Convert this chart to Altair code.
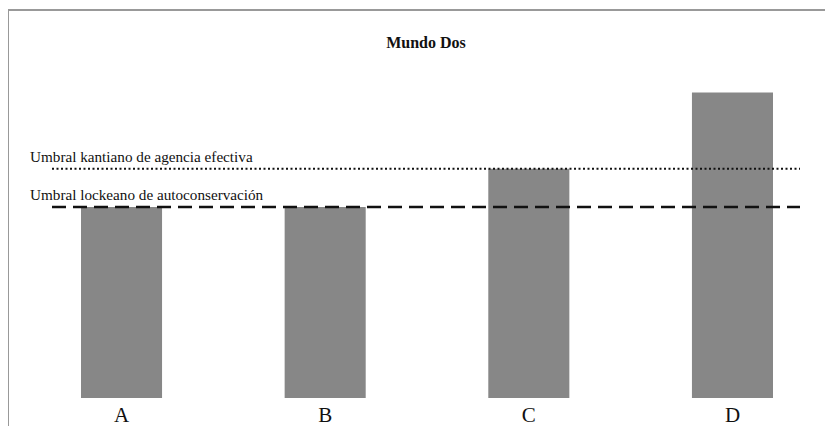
import altair as alt
import pandas as pd

categories = ["A", "B", "C", "D"]
values = [5, 5, 6, 8]
threshold_labels = ["Umbral kantiano de agencia efectiva", "Umbral lockeano de autoconservación"]
threshold_values = [6, 5]
title_text = "Mundo Dos"

bars_df = pd.DataFrame({"cat": categories, "val": values})
thr_df = pd.DataFrame({"label": threshold_labels, "val": threshold_values})

x_scale = alt.Scale(domain=categories, range=[73, 765], paddingInner=0.602, paddingOuter=0)
y_scale = alt.Scale(domain=[0, 10], range=[388, 6])
SERIF = "Liberation Serif"

bars = alt.Chart(bars_df).mark_bar(color="#878787").encode(
    x=alt.X("cat:N", scale=x_scale, axis=None),
    y=alt.Y("val:Q", scale=y_scale, axis=None),
)

cat_labels = alt.Chart(bars_df).mark_text(font=SERIF, fontSize=21, baseline="alphabetic", color="#111").encode(
    x=alt.X("cat:N", scale=x_scale, axis=None),
    y=alt.value(412),
    text="cat:N",
)

kant = alt.Chart(thr_df.iloc[[0]]).mark_rule(strokeDash=[2, 2.5], strokeWidth=2, color="#111").encode(
    y=alt.Y("val:Q", scale=y_scale), x=alt.value(44), x2=alt.value(792)
)
locke = alt.Chart(thr_df.iloc[[1]]).mark_rule(strokeDash=[14, 7], strokeWidth=2.5, color="#111").encode(
    y=alt.Y("val:Q", scale=y_scale), x=alt.value(44), x2=alt.value(792)
)
thr_text = alt.Chart(thr_df).mark_text(font=SERIF, fontSize=15.2, align="left", baseline="alphabetic", dy=-7, color="#111").encode(
    y=alt.Y("val:Q", scale=y_scale), x=alt.value(22), text="label:N"
)

title = alt.Chart(pd.DataFrame({"t": [title_text]})).mark_text(
    font=SERIF, fontSize=16, fontWeight="bold", baseline="middle", color="#111"
).encode(x=alt.value(418), y=alt.value(33), text="t:N")

frame_top = alt.Chart(pd.DataFrame({"t": [0]})).mark_rule(color="#999999", strokeWidth=2).encode(
    x=alt.value(0), x2=alt.value(817), y=alt.value(0)
)
frame_left = alt.Chart(pd.DataFrame({"t": [0]})).mark_rule(color="#999999", strokeWidth=2).encode(
    x=alt.value(0), y=alt.value(0), y2=alt.value(416)
)

chart = alt.layer(frame_top, frame_left, bars, kant, locke, thr_text, cat_labels, title).properties(
    width=817, height=416,
    autosize=alt.AutoSizeParams(type="none"),
    padding={"left": 0, "top": 2, "right": 0, "bottom": 0},
).configure_view(stroke=None)

chart.save("out.html", embed_options={"renderer": "svg", "actions": False})
